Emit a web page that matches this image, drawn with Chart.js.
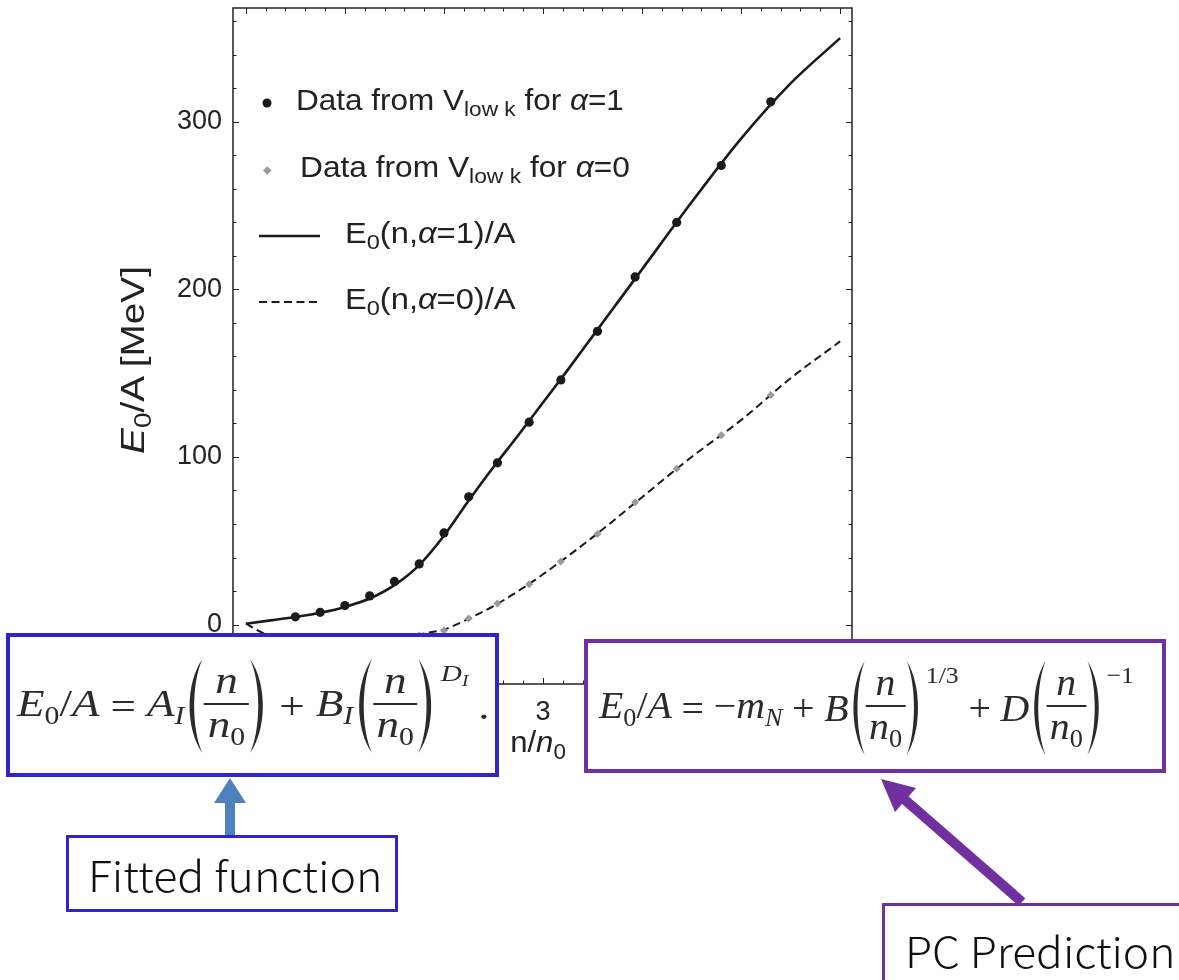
<!DOCTYPE html>
<html>
<head>
<meta charset="utf-8">
<script src="https://cdn.jsdelivr.net/npm/chart.js@4.4.0/dist/chart.umd.min.js"></script>
<style>
body { margin: 0; background: #fff; }
#wrap { position: relative; width: 1179px; height: 980px; overflow: hidden; font-family: "Liberation Sans", Arial, sans-serif; color: #222; }
#chart { position: absolute; left: 0; top: 0; }
.ov { position: absolute; white-space: nowrap; line-height: 1; }
.leg { font-size: 29px; transform-origin: left center; }
.leg sub { font-size: 0.72em; vertical-align: -0.3em; }
.box { position: absolute; background: #fff; box-sizing: border-box; }
.eq { position: absolute; display: flex; align-items: center; font-family: "Liberation Serif", "Times New Roman", serif; font-size: 37px; color: #2b2b2b; white-space: nowrap; transform-origin: left center; }
.eq sub { font-size: 0.66em; vertical-align: -0.32em; }
.frac { display: inline-flex; flex-direction: column; align-items: center; line-height: 1.05; margin: 0 2px; }
.frac .bar { height: 2px; width: 120%; background: #2b2b2b; margin: 2px 0 1px; }
.pp { display: block; }
.sup { align-self: flex-start; font-size: 24px; margin-top: 3px; margin-left: 3px; }
.op { margin: 0 9px; }
.cjk { font-family: "Noto Sans CJK SC", "Noto Sans", sans-serif; font-size: 42px; font-weight: 300; color: #111; transform-origin: left center; }
</style>
</head>
<body>
<div id="wrap">
<canvas id="chart" width="1179" height="980"></canvas>

<!-- legend -->
<svg class="ov" style="left:0;top:0" width="1179" height="980">
  <circle cx="267" cy="103" r="4.5" fill="#1a1a1a"/>
  <rect x="264.2" y="167.4" width="6" height="6" fill="#9a9a9a" transform="rotate(45 267.2 170.4)"/>
  <line x1="259" y1="236" x2="320" y2="236" stroke="#1a1a1a" stroke-width="2.6"/>
  <line x1="259" y1="302" x2="318" y2="302" stroke="#1a1a1a" stroke-width="2" stroke-dasharray="8,4.5"/>
</svg>
<div class="ov leg fit" data-w="328" data-pre="translateY(-50%)" style="left:296px;top:103px">Data from V<sub>low k</sub> for <i>α</i>=1</div>
<div class="ov leg fit" data-w="330" data-pre="translateY(-50%)" style="left:300px;top:170px">Data from V<sub>low k</sub> for <i>α</i>=0</div>
<div class="ov leg fit" data-w="170" data-pre="translateY(-50%)" style="left:345px;top:236px">E<sub>0</sub>(n,<i>α</i>=1)/A</div>
<div class="ov leg fit" data-w="170" data-pre="translateY(-50%)" style="left:345px;top:302px">E<sub>0</sub>(n,<i>α</i>=0)/A</div>

<!-- axis titles -->
<div class="ov leg fit" data-w="188" data-pre="translate(-50%,-50%) rotate(-90deg)" style="left:135px;top:360px;font-size:33px;transform-origin:center"><i>E</i><sub>0</sub>/A [MeV]</div>
<div class="ov leg fit" data-w="56" data-pre="translate(-50%,-50%)" style="left:538px;top:745px;font-size:30px;transform-origin:center">n/<i>n</i><sub>0</sub></div>

<!-- fitted function formula box -->
<div class="box" style="left:6px;top:633px;width:493px;height:144px;border:4px solid #3323cf"></div>
<div class="eq fit" data-w="472" data-pre="translateY(-50%)" style="left:17px;top:706px">
  <span><i>E</i><sub>0</sub>/<i>A</i></span><span class="op">=</span><span><i>A</i><sub><i>I</i></sub></span>
  <svg class="pp" width="17" height="98" viewBox="0 0 17 98"><path d="M15,2 C1,26 1,72 15,96 C6,72 6,26 15,2 Z" fill="#2b2b2b"/></svg>
  <span class="frac"><i>n</i><span class="bar"></span><span><i>n</i><sub>0</sub></span></span>
  <svg class="pp" width="17" height="98" viewBox="0 0 17 98"><path d="M2,2 C16,26 16,72 2,96 C11,72 11,26 2,2 Z" fill="#2b2b2b"/></svg>
  <span class="op">+</span><span><i>B</i><sub><i>I</i></sub></span>
  <svg class="pp" width="17" height="98" viewBox="0 0 17 98"><path d="M15,2 C1,26 1,72 15,96 C6,72 6,26 15,2 Z" fill="#2b2b2b"/></svg>
  <span class="frac"><i>n</i><span class="bar"></span><span><i>n</i><sub>0</sub></span></span>
  <svg class="pp" width="17" height="98" viewBox="0 0 17 98"><path d="M2,2 C16,26 16,72 2,96 C11,72 11,26 2,2 Z" fill="#2b2b2b"/></svg>
  <span class="sup"><i>D</i><sub><i>I</i></sub></span><span style="margin-left:8px">.</span>
</div>

<!-- PC prediction formula box -->
<div class="box" style="left:584px;top:639px;width:582px;height:134px;border:4px solid #7030a0"></div>
<div class="eq fit" data-w="535" data-pre="translateY(-50%)" style="left:599px;top:708px">
  <span><i>E</i><sub>0</sub>/<i>A</i></span><span class="op">=</span><span>−<i>m</i><sub><i>N</i></sub></span><span class="op">+</span><span><i>B</i></span>
  <svg class="pp" width="17" height="98" viewBox="0 0 17 98"><path d="M15,2 C1,26 1,72 15,96 C6,72 6,26 15,2 Z" fill="#2b2b2b"/></svg>
  <span class="frac"><i>n</i><span class="bar"></span><span><i>n</i><sub>0</sub></span></span>
  <svg class="pp" width="17" height="98" viewBox="0 0 17 98"><path d="M2,2 C16,26 16,72 2,96 C11,72 11,26 2,2 Z" fill="#2b2b2b"/></svg>
  <span class="sup">1/3</span>
  <span class="op">+</span><span><i>D</i></span>
  <svg class="pp" width="17" height="98" viewBox="0 0 17 98"><path d="M15,2 C1,26 1,72 15,96 C6,72 6,26 15,2 Z" fill="#2b2b2b"/></svg>
  <span class="frac"><i>n</i><span class="bar"></span><span><i>n</i><sub>0</sub></span></span>
  <svg class="pp" width="17" height="98" viewBox="0 0 17 98"><path d="M2,2 C16,26 16,72 2,96 C11,72 11,26 2,2 Z" fill="#2b2b2b"/></svg>
  <span class="sup">−1</span>
</div>

<!-- arrows -->
<svg class="ov" style="left:0;top:0" width="1179" height="980">
  <rect x="225" y="800" width="10" height="36" fill="#4f81bd"/>
  <polygon points="214,803 246,803 230,778" fill="#4f81bd"/>
  <line x1="1022" y1="902" x2="904" y2="799" stroke="#7030a0" stroke-width="10"/>
  <polygon points="881,779 916,788 895,812" fill="#7030a0"/>
</svg>

<div class="box" style="left:66px;top:835px;width:332px;height:77px;border:3px solid #3323cf"></div>
<div class="ov cjk fit" data-w="295" data-pre="translateY(-50%)" style="left:88px;top:874px">Fitted function</div>

<div class="box" style="left:882px;top:903px;width:320px;height:100px;border:3px solid #7030a0"></div>
<div class="ov cjk fit" data-w="270" data-pre="translateY(-50%)" style="left:905px;top:950px">PC Prediction</div>
</div>

<script>
// density n/n0 of the V_low k data points
const densities = [0.5, 0.75, 1.0, 1.25, 1.5, 1.75, 2.0, 2.25, 2.54, 2.86, 3.18, 3.55, 3.93, 4.35, 4.8, 5.3];
// E0/A [MeV], alpha = 1
const dataAlpha1 = [4.6, 7.3, 11.3, 17.1, 25.7, 36.2, 54.7, 76.2, 96.5, 120.8, 146, 175, 207.5, 240, 274, 312];
// E0/A [MeV], alpha = 0 (low densities sit under the formula box)
const dataAlpha0 = [-9, -11.5, -12, -11, -9, -6.5, -3.6, 3.6, 12.5, 24, 37.6, 54, 73, 93, 113, 137];

// fitted curves
const fitDensity1 = [0, 0.25, 0.5, 0.75, 1.0, 1.25, 1.5, 1.75, 2.0, 2.25, 2.5, 2.75, 3.0, 3.25, 3.5, 3.75, 4.0, 4.5, 5.0, 5.5, 6.0];
const fitAlpha1 = [0.5, 2.5, 4.5, 7, 10.5, 15.5, 23.5, 35.5, 53, 74, 94, 113, 132.5, 152, 172, 192, 212, 252, 290, 323, 350];
const fitDensity0 = [0, 0.17, 0.5, 1.0, 1.5, 1.83, 2.0, 2.25, 2.5, 2.75, 3.0, 3.5, 4.0, 4.5, 5.0, 5.5, 6.0];
const fitAlpha0 = [0.5, -5, -10, -12, -8.5, -5, -3, 3.5, 11, 20, 30, 52, 76, 100, 122, 147, 169];

// ticks (every 0.2 in n/n0, every 20 MeV); labels only on the majors
const xTickValues = Array.from({ length: 31 }, (_, i) => i / 5);
const xTickLabels = [0, 1, 2, 3, 4, 5, 6];
const yTickValues = Array.from({ length: 20 }, (_, i) => -20 + i * 20);
const yTickLabels = [0, 100, 200, 300];

const pts = (xs, ys) => xs.map((x, i) => ({ x: x, y: ys[i] }));

// Mathematica-like frame with ticks pointing inwards on all four sides
const frameTicks = {
    id: 'frameTicks',
    afterDatasetsDraw(chart) {
        const { ctx, chartArea: a, scales: { x, y } } = chart;
        ctx.save();
        ctx.strokeStyle = '#222';
        ctx.lineWidth = 1;
        ctx.beginPath();
        x.ticks.forEach(t => {
            const px = Math.round(x.getPixelForValue(t.value)) + 0.5;
            const len = xTickLabels.includes(t.value) ? 6 : 3.5;
            ctx.moveTo(px, a.bottom); ctx.lineTo(px, a.bottom - len);
            ctx.moveTo(px, a.top); ctx.lineTo(px, a.top + len);
        });
        y.ticks.forEach(t => {
            const py = Math.round(y.getPixelForValue(t.value)) + 0.5;
            const len = yTickLabels.includes(t.value) ? 6 : 3.5;
            ctx.moveTo(a.left, py); ctx.lineTo(a.left + len, py);
            ctx.moveTo(a.right, py); ctx.lineTo(a.right - len, py);
        });
        ctx.stroke();
        ctx.lineWidth = 1.5;
        ctx.strokeRect(a.left, a.top, a.right - a.left, a.bottom - a.top);
        ctx.restore();
    }
};

const noPad = s => { s.paddingTop = 0; s.paddingBottom = 0; s.paddingLeft = 0; s.paddingRight = 0; };
const tickFont = { family: '"Liberation Sans", Arial, sans-serif', size: 27 };

new Chart(document.getElementById('chart'), {
    type: 'scatter',
    data: {
        datasets: [
            {
                label: 'Data from V_low k for alpha=1',
                data: pts(densities, dataAlpha1),
                backgroundColor: '#1a1a1a',
                borderWidth: 0,
                pointRadius: 4.6,
                order: 1
            },
            {
                label: 'Data from V_low k for alpha=0',
                data: pts(densities, dataAlpha0),
                pointStyle: 'rectRot',
                backgroundColor: '#9a9a9a',
                borderWidth: 0,
                pointRadius: 4,
                order: 2
            },
            {
                label: 'E0(n,alpha=1)/A',
                data: pts(fitDensity1, fitAlpha1),
                showLine: true,
                pointRadius: 0,
                borderColor: '#1a1a1a',
                borderWidth: 2.6,
                cubicInterpolationMode: 'monotone',
                order: 3
            },
            {
                label: 'E0(n,alpha=0)/A',
                data: pts(fitDensity0, fitAlpha0),
                showLine: true,
                pointRadius: 0,
                borderColor: '#1a1a1a',
                borderWidth: 2,
                borderDash: [8, 4.5],
                cubicInterpolationMode: 'monotone',
                order: 4
            }
        ]
    },
    options: {
        responsive: false,
        animation: false,
        layout: { padding: { top: 8, right: 327, left: 0, bottom: 0 } },
        plugins: { legend: { display: false }, tooltip: { enabled: false } },
        scales: {
            x: {
                type: 'linear',
                min: -0.13,
                max: 6.12,
                afterBuildTicks: s => { s.ticks = xTickValues.map(v => ({ value: v })); },
                afterFit: s => { s.height = 296; noPad(s); },
                grid: { display: false, drawTicks: false },
                border: { display: false },
                ticks: {
                    autoSkip: false,
                    maxRotation: 0,
                    padding: 12,
                    color: '#222',
                    font: tickFont,
                    callback: v => xTickLabels.includes(v) ? String(v) : ''
                }
            },
            y: {
                min: -35.5,
                max: 368,
                afterBuildTicks: s => { s.ticks = yTickValues.map(v => ({ value: v })); },
                afterFit: s => { s.width = 233; noPad(s); },
                grid: { display: false, drawTicks: false },
                border: { display: false },
                ticks: {
                    autoSkip: false,
                    padding: 11,
                    color: '#222',
                    font: tickFont,
                    callback: v => yTickLabels.includes(v) ? String(v) : ''
                }
            }
        }
    },
    plugins: [frameTicks]
});

// stretch the overlay texts to the widths they have in the picture
document.querySelectorAll('.fit').forEach(el => {
    const k = Number(el.dataset.w) / el.offsetWidth;
    el.style.transform = (el.dataset.pre || '') + ' scaleX(' + k.toFixed(3) + ')';
});
</script>
</body>
</html>
